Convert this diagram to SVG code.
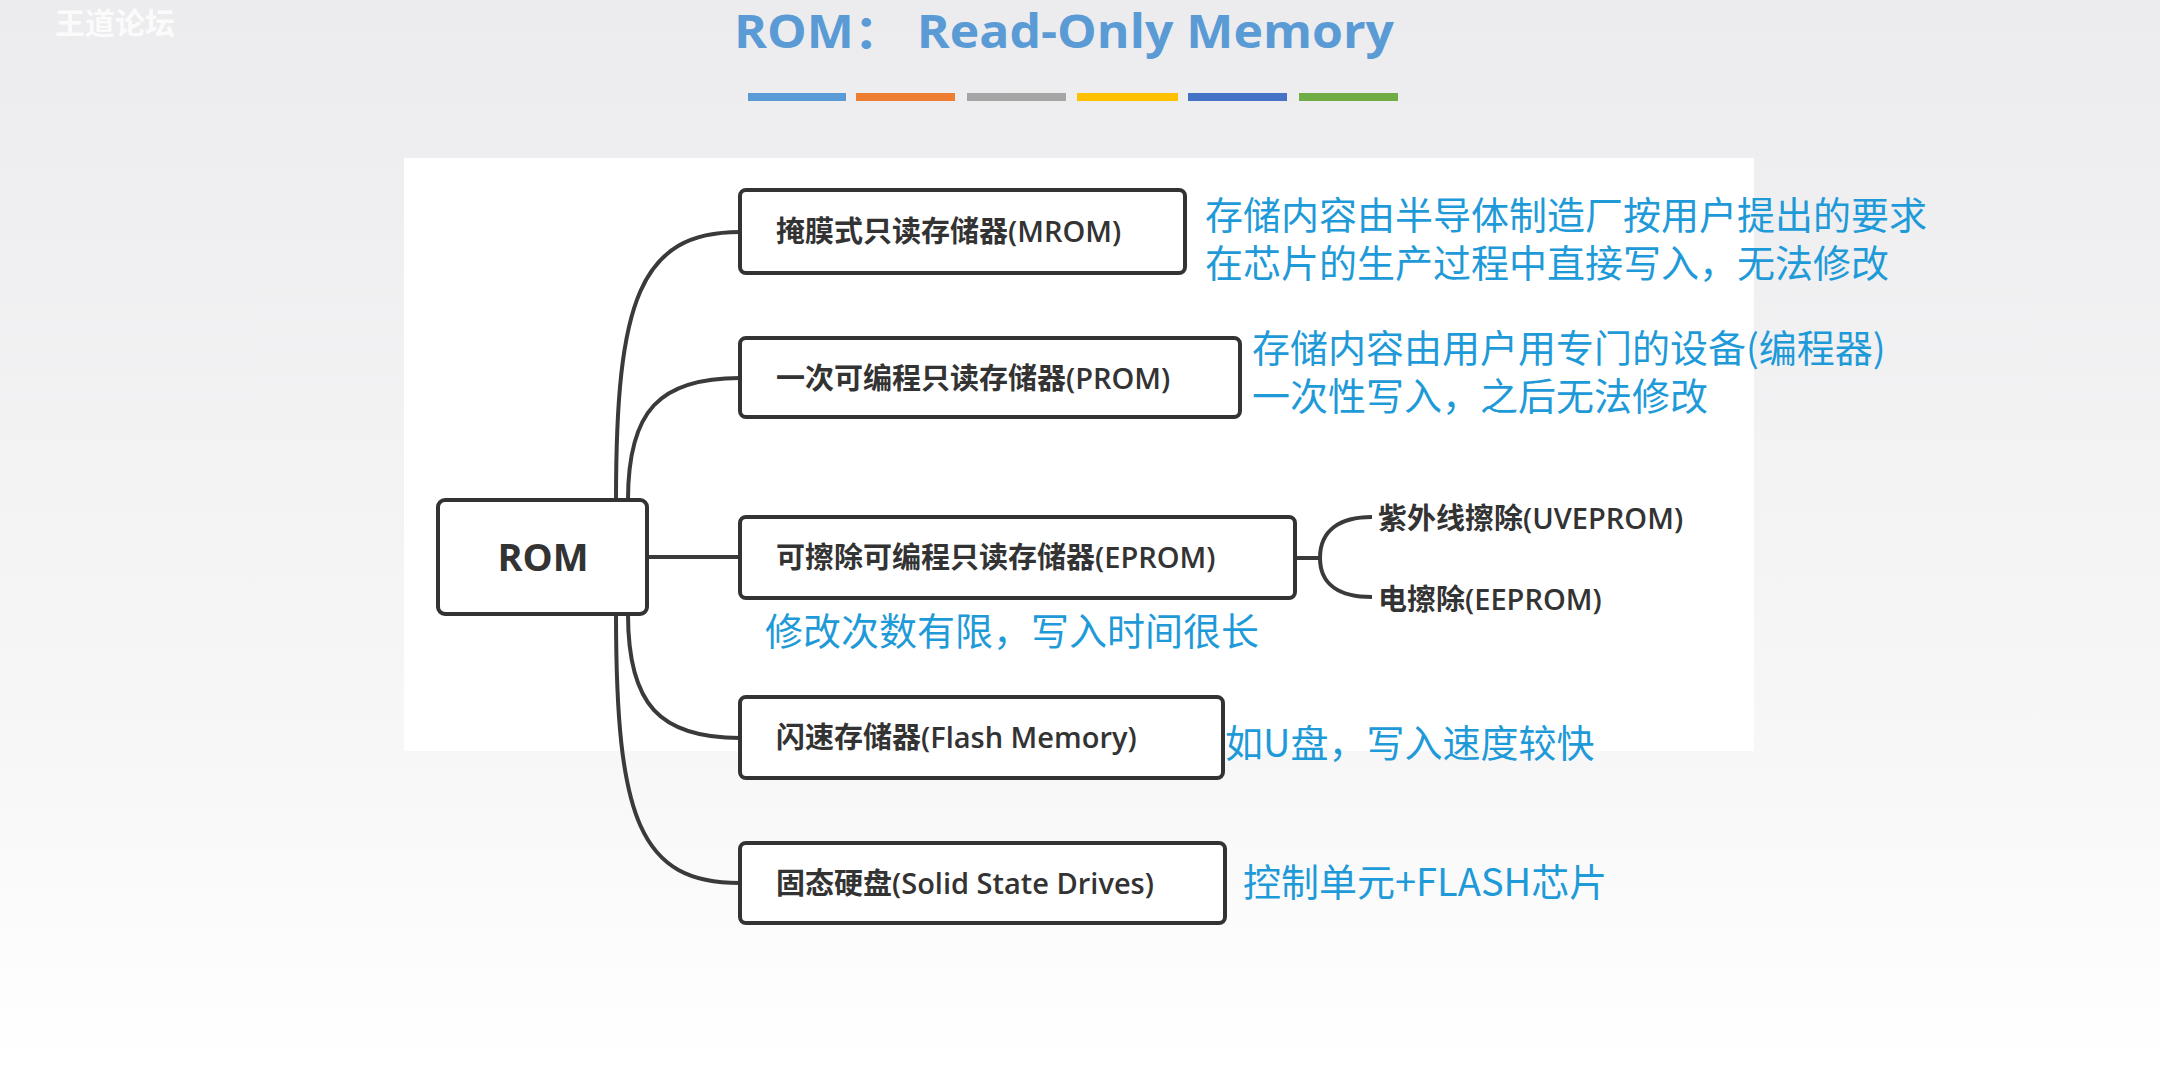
<svg xmlns="http://www.w3.org/2000/svg" width="2160" height="1072" viewBox="0 0 2160 1072">
<defs>
<linearGradient id="bg" x1="0" y1="0" x2="0" y2="1"><stop offset="0" stop-color="#ececee"/><stop offset="0.7" stop-color="#f7f7f8"/><stop offset="1" stop-color="#ffffff"/></linearGradient>
</defs>
<style>
.box{fill:#fff;stroke:#333;stroke-width:4}
.lbl{font-family:"Open Sans","Noto Sans CJK SC",sans-serif;font-size:29px;font-weight:600;fill:#333}
.ann{font-family:"Noto Sans CJK SC",sans-serif;font-size:38px;fill:#1f9ad8}
.sub{font-family:"Open Sans","Noto Sans CJK SC",sans-serif;font-size:29px;font-weight:600;fill:#333}
.con{fill:none;stroke:#3a3a3a;stroke-width:4}
</style>
<rect width="2160" height="1072" fill="url(#bg)"/>
<text x="55" y="34" font-family="Noto Sans CJK SC,sans-serif" font-size="30" font-weight="bold" fill="#fff" opacity="0.8">王道论坛</text>
<text x="734" y="48" textLength="660" lengthAdjust="spacingAndGlyphs" font-family="Open Sans,Noto Sans CJK SC,sans-serif" font-size="46" font-weight="bold" fill="#5b9bd5">ROM： Read-Only Memory</text>
<g>
<rect x="748" y="93" width="98" height="8" fill="#5b9bd5"/>
<rect x="856" y="93" width="99" height="8" fill="#ed7d31"/>
<rect x="967" y="93" width="99" height="8" fill="#a5a5a5"/>
<rect x="1077" y="93" width="101" height="8" fill="#ffc000"/>
<rect x="1188" y="93" width="99" height="8" fill="#4472c4"/>
<rect x="1299" y="93" width="99" height="8" fill="#70ad47"/>
</g>
<rect x="404" y="158" width="1350" height="593" fill="#fff"/>
<g id="connectors">
<path class="con" d="M616,500 C616,300 640,232 740,232"/>
<path class="con" d="M628,500 C628,410 660,378 740,378"/>
<path class="con" d="M647,557 L740,557"/>
<path class="con" d="M628,614 C628,705 660,738 740,738"/>
<path class="con" d="M616,614 C616,820 640,883 740,883"/>
<path class="con" stroke-width="2" d="M1295,558 L1320,558 M1320,558 C1320,530 1340,517 1372,517 M1320,558 C1320,585 1340,597 1372,597"/>
</g>
<g id="rom"><rect class="box" x="438" y="500" width="209" height="114" rx="7"/><text x="543" y="571" text-anchor="middle" font-family="Open Sans,sans-serif" font-size="38" font-weight="bold" fill="#333">ROM</text></g>
<g id="mrom"><rect class="box" x="740" y="190" width="445" height="83" rx="6"/><text class="lbl" x="776" y="242">掩膜式只读存储器(MROM)</text></g>
<g id="prom"><rect class="box" x="740" y="338" width="500" height="79" rx="6"/><text class="lbl" x="776" y="389">一次可编程只读存储器(PROM)</text></g>
<g id="eprom"><rect class="box" x="740" y="517" width="555" height="81" rx="6"/><text class="lbl" x="776" y="568">可擦除可编程只读存储器(EPROM)</text></g>
<g id="flash"><rect class="box" x="740" y="697" width="483" height="81" rx="6"/><text class="lbl" x="776" y="748">闪速存储器(Flash Memory)</text></g>
<g id="ssd"><rect class="box" x="740" y="843" width="485" height="80" rx="6"/><text class="lbl" x="776" y="894">固态硬盘(Solid State Drives)</text></g>
<g id="uveprom"><text class="sub" x="1378" y="529">紫外线擦除(UVEPROM)</text></g>
<g id="eeprom"><text class="sub" x="1378" y="610">电擦除(EEPROM)</text></g>
<g id="annotations">
<text class="ann" x="1205" y="229">存储内容由半导体制造厂按用户提出的要求</text>
<text class="ann" x="1205" y="277">在芯片的生产过程中直接写入，无法修改</text>
<text class="ann" x="1252" y="362">存储内容由用户用专门的设备(编程器)</text>
<text class="ann" x="1252" y="410">一次性写入，之后无法修改</text>
<text class="ann" x="765" y="645">修改次数有限，写入时间很长</text>
<text class="ann" x="1225" y="757">如U盘，写入速度较快</text>
<text class="ann" x="1243" y="896">控制单元+FLASH芯片</text>
</g>
</svg>
